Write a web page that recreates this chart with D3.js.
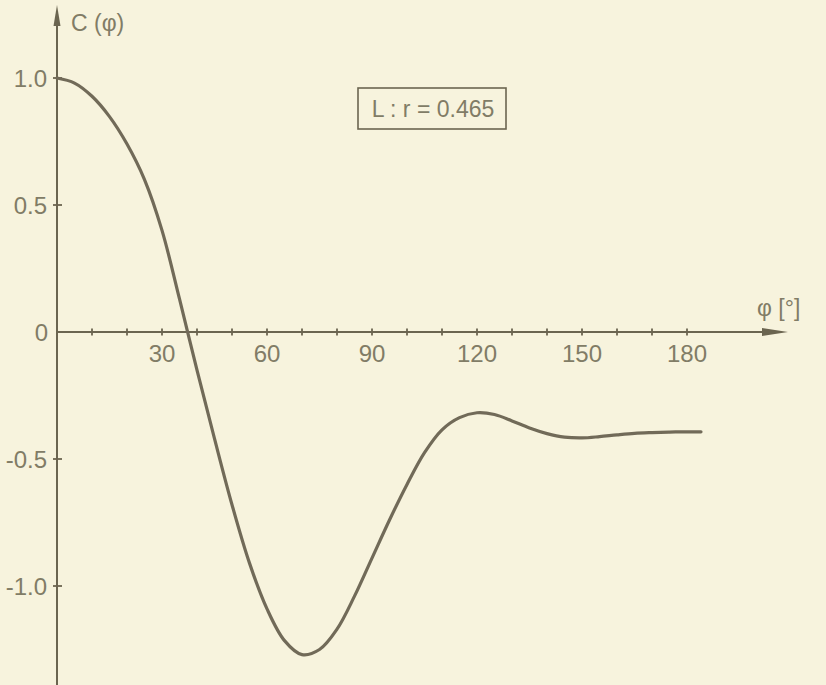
<!DOCTYPE html>
<html>
<head>
<meta charset="utf-8">
<script src="https://cdn.jsdelivr.net/npm/d3@7/dist/d3.min.js"></script>
<style>
  html, body { margin: 0; padding: 0; background: #f7f3dd; }
  svg { display: block; }
  text { font-family: "Liberation Sans", "Arial", sans-serif; fill: #817c66; }
</style>
</head>
<body>
<svg id="chart" width="826" height="685"></svg>
<script>
// angle φ in degrees
const phi = [0, 5, 10, 15, 20, 25, 30, 35, 40, 45, 50, 55, 60, 65, 70, 75, 80, 85, 90, 95, 100, 105, 110, 115, 120, 125, 130, 135, 140, 145, 150, 155, 160, 165, 170, 175, 180, 184];
// correlation C(φ)
const cValues = [1.0, 0.98, 0.928, 0.848, 0.74, 0.60, 0.40, 0.13, -0.15, -0.42, -0.68, -0.91, -1.09, -1.215, -1.27, -1.25, -1.17, -1.04, -0.89, -0.74, -0.60, -0.475, -0.385, -0.337, -0.318, -0.325, -0.35, -0.378, -0.40, -0.414, -0.417, -0.412, -0.405, -0.399, -0.396, -0.394, -0.393, -0.393];
const xTickLabels = [30, 60, 90, 120, 150, 180];
const xMinorTicks = [10, 20, 30, 40, 50, 60, 70, 80, 90, 100, 110, 120, 130, 140, 150, 160, 170, 180];
const yTickValues = [1.0, 0.5, -0.5, -1.0];
const yTickLabels = ["1.0", "0.5", "-0.5", "-1.0"];
const annotation = "L : r = 0.465";

const ink = "#6b6550";
const svg = d3.select("#chart");

const x = d3.scaleLinear().domain([0, 180]).range([57, 687]);
const y = d3.scaleLinear().domain([-1, 1]).range([586, 78]);

// x axis line with arrow
const y0 = y(0);
svg.append("line").attr("x1", x(0)).attr("x2", 766).attr("y1", y0).attr("y2", y0)
  .attr("stroke", ink).attr("stroke-width", 2);
svg.append("path").attr("d", `M762,${y0-4} L788,${y0} L762,${y0+4} Z`).attr("fill", ink);

// y axis line with arrow
svg.append("line").attr("x1", x(0)).attr("x2", x(0)).attr("y1", 685).attr("y2", 22)
  .attr("stroke", ink).attr("stroke-width", 2);
svg.append("path").attr("d", `M${x(0)-3.5},26 L${x(0)},5 L${x(0)+3.5},26 Z`).attr("fill", ink);

// x ticks
svg.append("g").selectAll("line").data(xMinorTicks).join("line")
  .attr("x1", d => x(d)).attr("x2", d => x(d))
  .attr("y1", y0 - 3.5).attr("y2", y0 + 3.5)
  .attr("stroke", ink).attr("stroke-width", 1.8);
svg.append("g").selectAll("text").data(xTickLabels).join("text")
  .attr("x", d => x(d)).attr("y", y0 + 30)
  .attr("text-anchor", "middle").attr("font-size", 24)
  .text(d => d);

// y ticks
svg.append("g").selectAll("line").data(yTickValues).join("line")
  .attr("x1", x(0) - 4).attr("x2", x(0) + 5)
  .attr("y1", d => y(d)).attr("y2", d => y(d))
  .attr("stroke", ink).attr("stroke-width", 1.8);
svg.append("g").selectAll("text").data(yTickValues).join("text")
  .attr("x", 47).attr("y", d => y(d) + 9)
  .attr("text-anchor", "end").attr("font-size", 24)
  .text((d, i) => yTickLabels[i]);
svg.append("text").attr("x", 48).attr("y", y0 + 9)
  .attr("text-anchor", "end").attr("font-size", 24).text("0");

// axis titles
svg.append("text").attr("x", 71).attr("y", 31).attr("font-size", 23).text("C (φ)");
svg.append("text").attr("x", 757).attr("y", 316).attr("font-size", 23).text("φ [°]");

// annotation box
svg.append("rect").attr("x", 358).attr("y", 88).attr("width", 148).attr("height", 41)
  .attr("fill", "none").attr("stroke", ink).attr("stroke-width", 1.6);
svg.append("text").attr("x", 433).attr("y", 117).attr("text-anchor", "middle")
  .attr("font-size", 23).text(annotation);

// curve
const data = phi.map((p, i) => ({ p, c: cValues[i] }));
const line = d3.line().x(d => x(d.p)).y(d => y(d.c)).curve(d3.curveCatmullRom.alpha(0.5));
svg.append("path").datum(data).attr("d", line)
  .attr("fill", "none").attr("stroke", "#716a58").attr("stroke-width", 3.2)
  .attr("stroke-linecap", "round");
</script>
</body>
</html>
